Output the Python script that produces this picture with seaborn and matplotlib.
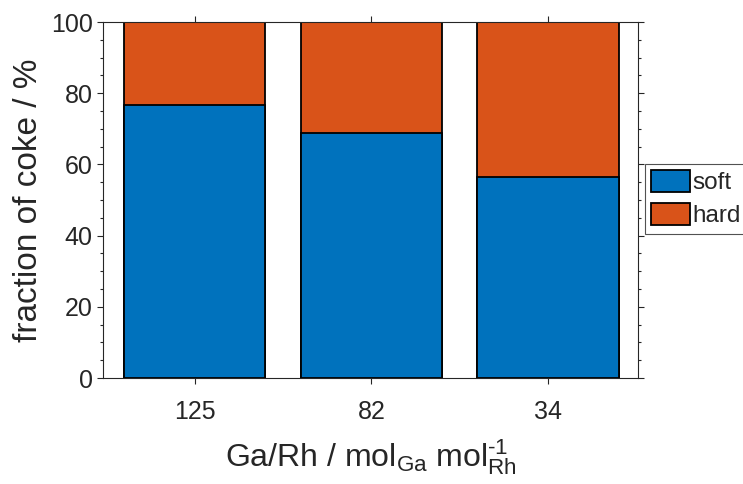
import matplotlib
matplotlib.use("Agg")
import matplotlib.pyplot as plt
from matplotlib.ticker import MultipleLocator
from matplotlib.patches import Patch
import pandas as pd
import seaborn as sns

# Ga/Rh ratio categories and coke fractions (%)
ratios = ["125", "82", "34"]
soft = [76.7, 68.8, 56.5]
hard = [23.3, 31.2, 43.5]

BLUE = "#0072BD"
ORANGE = "#D95319"
AXCOL = "#262626"

sns.set_theme(style="white")
plt.rcParams["font.family"] = ["Liberation Sans", "DejaVu Sans"]
plt.rcParams["mathtext.fontset"] = "custom"
plt.rcParams["mathtext.rm"] = "Liberation Sans"
plt.rcParams["mathtext.it"] = "Liberation Sans"

df = pd.DataFrame({"ratio": ratios, "soft": soft, "hard": hard})
df["total"] = df["soft"] + df["hard"]

fig = plt.figure(figsize=(7.43, 4.84), dpi=100)
ax = fig.add_axes([0.1386, 0.219, 0.7201, 0.7355])

# stacked bars: full height in orange, soft part in blue on top of it
sns.barplot(data=df, x="ratio", y="total", color=ORANGE, saturation=1,
            width=0.8, edgecolor="black", linewidth=1.3, ax=ax)
sns.barplot(data=df, x="ratio", y="soft", color=BLUE, saturation=1,
            width=0.8, edgecolor="black", linewidth=1.3, ax=ax)

ax.set_xlim(-0.52, 2.51)
ax.set_ylim(0, 100)
ax.yaxis.set_major_locator(MultipleLocator(20))
ax.yaxis.set_minor_locator(MultipleLocator(5))

ax.set_ylabel("fraction of coke / %", fontsize=24, color=AXCOL, labelpad=5)
ax.set_xlabel(r"Ga/Rh / mol$_{\mathrm{Ga}}$ mol$_{\mathrm{Rh}}^{\text{-}1}$",
              fontsize=23, color=AXCOL, labelpad=10)

for s in ax.spines.values():
    s.set_visible(True)
    s.set_color(AXCOL)
    s.set_linewidth(0.8)

ax.xaxis.set_ticks_position("both")
ax.yaxis.set_ticks_position("both")
ax.tick_params(axis="both", which="major", direction="out", length=4.5,
               width=0.8, color=AXCOL, labelsize=18, labelcolor=AXCOL)
ax.tick_params(axis="y", which="minor", direction="out", length=2.5,
               width=0.8, color=AXCOL, left=True, right=True)
ax.tick_params(axis="x", which="major", pad=11)
ax.tick_params(axis="y", which="major", pad=3)

handles = [Patch(facecolor=BLUE, edgecolor="black", linewidth=1.3, label="soft"),
           Patch(facecolor=ORANGE, edgecolor="black", linewidth=1.3, label="hard")]
leg = ax.legend(handles=handles, loc="upper left", bbox_to_anchor=(1.013, 0.601),
                borderaxespad=0, frameon=True, fancybox=False, fontsize=17.5,
                handlelength=1.6, handleheight=0.98, handletextpad=0.08,
                labelspacing=0.38, borderpad=0.25)
leg.get_frame().set_edgecolor(AXCOL)
leg.get_frame().set_linewidth(0.8)

fig.savefig("out.png", dpi=100)
